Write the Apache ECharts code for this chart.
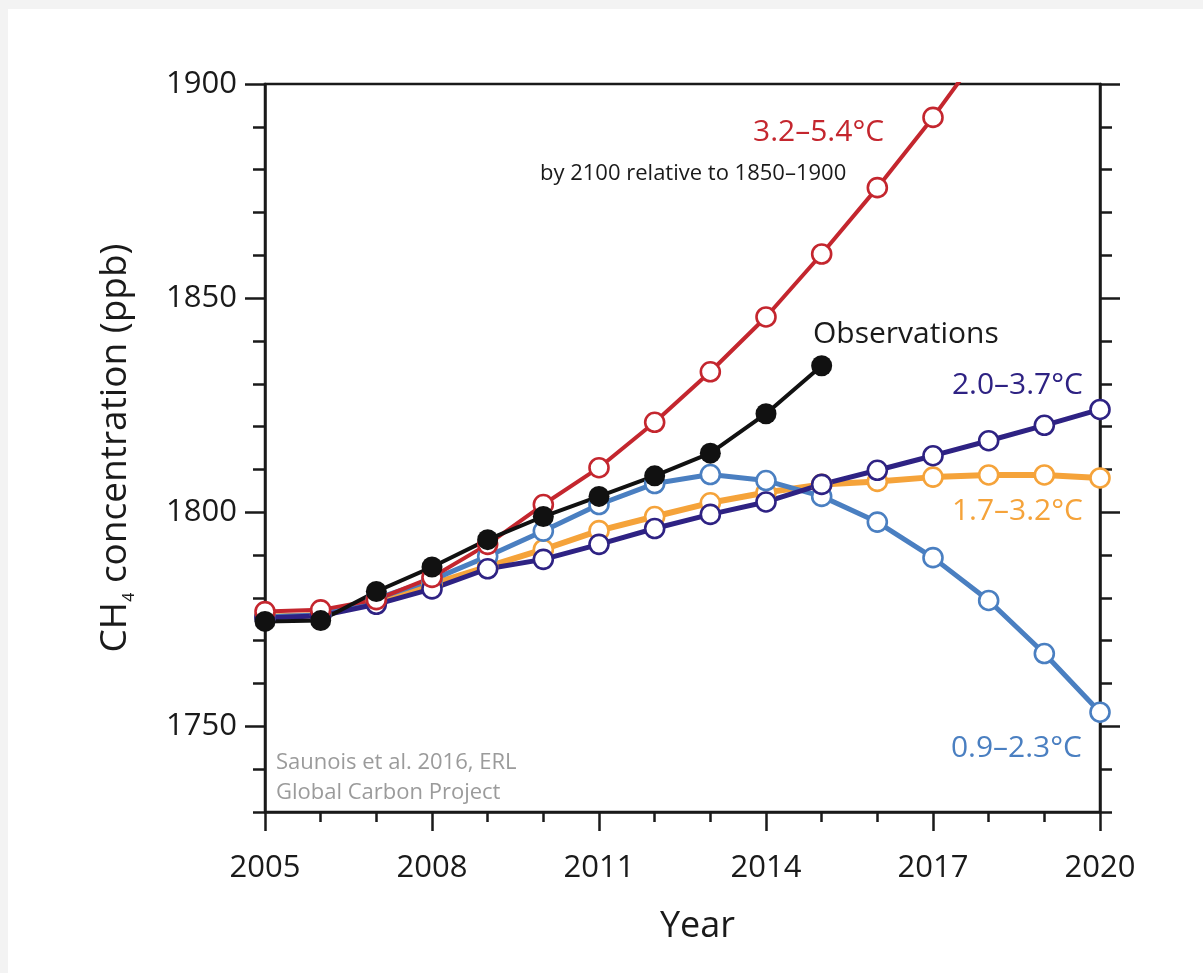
<!DOCTYPE html>
<html>
<head>
<meta charset="utf-8">
<script src="https://cdn.jsdelivr.net/npm/echarts@6/dist/echarts.min.js"></script>
<style>
html,body{margin:0;padding:0;background:#f3f3f3;width:1203px;height:973px;overflow:hidden;}
#chart{position:absolute;left:8px;top:9px;width:1195px;height:964px;background:#fff;}
</style>
</head>
<body>
<div id="chart"></div>
<script>
// ---- data ----
var years = [2005,2006,2007,2008,2009,2010,2011,2012,2013,2014,2015,2016,2017,2018,2019,2020];
var xMajorTicks = [2005,2008,2011,2014,2017,2020];
var yMajorTicks = [1750,1800,1850,1900];
var observations = [1774.5,1774.7,1781.5,1787.2,1793.6,1799.0,1803.7,1808.5,1813.8,1823.0,1834.2];
var scen32_54 = [1776.8,1777.2,1779.6,1784.8,1792.5,1801.8,1810.4,1821.0,1832.8,1845.6,1860.3,1875.8,1892.2,1910.0];
var scen20_37 = [1775.3,1775.8,1778.5,1782.1,1786.8,1789.0,1792.5,1796.2,1799.5,1802.4,1806.5,1809.8,1813.2,1816.7,1820.3,1824.0];
var scen17_32 = [1775.6,1776.0,1779.2,1783.2,1787.3,1791.3,1795.7,1799.0,1802.2,1804.6,1806.5,1807.2,1808.2,1808.7,1808.7,1808.0];
var scen09_23 = [1775.6,1776.0,1779.8,1784.2,1789.7,1795.6,1801.8,1806.7,1808.8,1807.4,1803.7,1797.7,1789.4,1779.4,1767.0,1753.3];

function pairs(vals){ return vals.map(function(v,i){ return [years[i], v]; }); }

var FONT = '"Open Sans", "Noto Sans", sans-serif';
var AX = '#1a1a1a';
var RED = '#c4262e', PURPLE = '#2e2283', ORANGE = '#f5a33a', BLUE = '#4a7fc1';

function openSeries(name, vals, color, width){
  return {
    name: name, type: 'line', data: pairs(vals),
    symbol: 'circle', symbolSize: 19, showSymbol: true,
    lineStyle: {color: color, width: width},
    itemStyle: {color: '#ffffff', borderColor: color, borderWidth: 2.6},
    emphasis: {disabled: true}, clip: true, animation: false
  };
}

var chart = echarts.init(document.getElementById('chart'));
var option = {
  animation: false,
  backgroundColor: '#ffffff',
  grid: {left: 257, right: 103, top: 75, bottom: 161, show: true, borderColor: AX, borderWidth: 2.5, backgroundColor: 'transparent'},
  xAxis: [
    {type: 'value', min: 2005, max: 2020, interval: 1, position: 'bottom',
     axisLine: {show: true, lineStyle: {color: AX, width: 2.5}},
     axisTick: {show: true, length: 10, lineStyle: {color: AX, width: 2.5}},
     axisLabel: {show: false}, splitLine: {show: false}},
    {type: 'value', min: 2005, max: 2020, interval: 1, position: 'bottom', offset: 0,
     axisLine: {show: false},
     axisTick: {show: true, length: 19, customValues: xMajorTicks, lineStyle: {color: AX, width: 2.5}},
     axisLabel: {show: true, customValues: xMajorTicks, fontSize: 31, fontFamily: FONT, color: '#1a1a1a', margin: 41,
                 formatter: function(v){ return String(v); }},
     splitLine: {show: false},
     name: 'Year', nameLocation: 'middle', nameGap: 97,
     nameTextStyle: {fontSize: 36, fontFamily: FONT, color: '#1a1a1a', padding: [0,0,0,30]}}
  ],
  yAxis: [
    {type: 'value', min: 1730, max: 1900, interval: 10, position: 'left',
     axisLine: {show: true, lineStyle: {color: AX, width: 2.5}},
     axisTick: {show: true, length: 12, lineStyle: {color: AX, width: 2.5}},
     axisLabel: {show: false}, splitLine: {show: false}},
    {type: 'value', min: 1730, max: 1900, interval: 10, position: 'left', offset: 0,
     axisLine: {show: false},
     axisTick: {show: true, length: 20, customValues: yMajorTicks, lineStyle: {color: AX, width: 2.5}},
     axisLabel: {show: true, customValues: yMajorTicks, fontSize: 31, fontFamily: FONT, color: '#1a1a1a', margin: 28,
                 formatter: function(v){ return String(v); }},
     splitLine: {show: false},
     name: '{n|CH}{s|4}{n| concentration (ppb)}', nameLocation: 'middle', nameGap: 128,
     nameTextStyle: {rich: {
       n: {fontSize: 37, fontFamily: FONT, color: '#1a1a1a', lineHeight: 44},
       s: {fontSize: 16, fontFamily: FONT, color: '#1a1a1a', lineHeight: 14, verticalAlign: 'bottom'}
     }}},
    {type: 'value', min: 1730, max: 1900, interval: 10, position: 'right',
     axisLine: {show: true, lineStyle: {color: AX, width: 2.5}},
     axisTick: {show: true, length: 12, lineStyle: {color: AX, width: 2.5}},
     axisLabel: {show: false}, splitLine: {show: false}},
    {type: 'value', min: 1730, max: 1900, interval: 10, position: 'right', offset: 0,
     axisLine: {show: false},
     axisTick: {show: true, length: 20, customValues: yMajorTicks, lineStyle: {color: AX, width: 2.5}},
     axisLabel: {show: false}, splitLine: {show: false}}
  ],
  series: [
    openSeries('1.7–3.2°C', scen17_32, ORANGE, 6),
    openSeries('0.9–2.3°C', scen09_23, BLUE, 5),
    openSeries('2.0–3.7°C', scen20_37, PURPLE, 5),
    openSeries('3.2–5.4°C', scen32_54, RED, 4),
    {name: 'Observations', type: 'line', data: pairs(observations),
     symbol: 'circle', symbolSize: 21, showSymbol: true,
     lineStyle: {color: '#111', width: 4},
     itemStyle: {color: '#111', borderColor: '#111', borderWidth: 0},
     emphasis: {disabled: true}, clip: true}
  ],
  graphic: [
    {type: 'text', left: 745, top: 108, style: {text: '3.2–5.4°C', font: '30px ' + FONT, fill: RED}},
    {type: 'text', left: 532, top: 154, style: {text: 'by 2100 relative to 1850–1900', font: '22px ' + FONT, fill: '#1a1a1a'}},
    {type: 'text', left: 805, top: 310, style: {text: 'Observations', font: '30px ' + FONT, fill: '#1a1a1a'}},
    {type: 'text', right: 1203 - 1083, top: 361, style: {text: '2.0–3.7°C', font: '30px ' + FONT, fill: PURPLE}},
    {type: 'text', right: 1203 - 1083, top: 487, style: {text: '1.7–3.2°C', font: '30px ' + FONT, fill: ORANGE}},
    {type: 'text', right: 1203 - 1082, top: 724, style: {text: '0.9–2.3°C', font: '30px ' + FONT, fill: BLUE}},
    {type: 'text', left: 268, top: 743, style: {text: 'Saunois et al. 2016, ERL', font: '22px ' + FONT, fill: '#9b9b9b'}},
    {type: 'text', left: 268, top: 773, style: {text: 'Global Carbon Project', font: '22px ' + FONT, fill: '#9b9b9b'}}
  ]
};
chart.setOption(option);
</script>
</body>
</html>
